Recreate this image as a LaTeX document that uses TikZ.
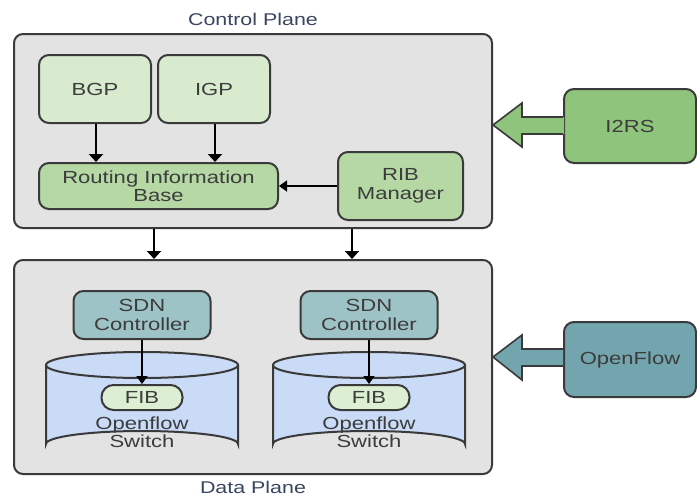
\documentclass[tikz,border=0pt]{standalone}
\usepackage{fontspec}
\setmainfont{Liberation Sans}[FakeStretch=1.26]
\usetikzlibrary{arrows.meta,calc}
\definecolor{txt}{HTML}{3C3C3C}
\definecolor{titletxt}{HTML}{3A4560}
\definecolor{edge}{HTML}{3A3A3A}
\definecolor{planefill}{HTML}{E3E3E3}
\definecolor{protofill}{HTML}{D8EBCF}
\definecolor{ribfill}{HTML}{B5D8A4}
\definecolor{irsfill}{HTML}{8EC47C}
\definecolor{sdnfill}{HTML}{9EC3C6}
\definecolor{offill}{HTML}{73A5AE}
\definecolor{cylfill}{HTML}{C9DBF6}
\definecolor{fibfill}{HTML}{DCEFD2}
\tikzset{
  plane/.style={draw=edge, line width=2pt, fill=planefill, rounded corners=9pt, inner sep=0pt},
  box/.style={draw=edge, line width=2pt, rounded corners=10pt, inner sep=0pt, align=center,
    text=txt, font=\fontsize{17.5}{18.5}\selectfont},
  title/.style={text=titletxt, font=\fontsize{17}{18}\selectfont},
  arr/.style={draw=black, line width=2pt, -{Triangle[width=14pt,length=8pt]}},
  thinarr/.style={draw=black, line width=1.4pt, -{Triangle[width=11pt,length=8pt]}},
  fat/.style={draw=edge, line width=1.6pt, line join=miter},
  cyl/.style={draw=edge, line width=2pt, fill=cylfill},
  cyltext/.style={text=txt, align=center, font=\fontsize{17.5}{18.5}\selectfont}
}
\begin{document}
\begin{tikzpicture}[x=1pt,y=-1pt]
\useasboundingbox (0,0) rectangle (697,498);

% planes
\node[plane, minimum width=478pt, minimum height=194pt] (cp) at (253,131) {};
\node[plane, minimum width=478pt, minimum height=214pt] (dp) at (253,367) {};
\node[title] (cpt) at (253,19) {Control Plane};
\node[title] (dpt) at (253,487) {Data Plane};

% control plane boxes
\node[box, fill=protofill, minimum width=112pt, minimum height=68pt] (bgp) at (95,89) {BGP};
\node[box, fill=protofill, minimum width=112pt, minimum height=68pt] (igp) at (214,89) {IGP};
\node[box, fill=ribfill, minimum width=239pt, minimum height=46pt] (rib) at (158.5,186) {Routing Information\\Base};
\node[box, fill=ribfill, minimum width=125pt, minimum height=68pt] (ribm) at (400.5,186) {RIB\\Manager};
\node[box, fill=irsfill, minimum width=132pt, minimum height=74pt] (irs) at (630,126) {I2RS};

\draw[arr] (bgp.south -| 96,0) -- (rib.north -| 96,0);
\draw[arr] (igp.south -| 215,0) -- (rib.north -| 215,0);
\draw[thinarr] (ribm.west) -- (rib.east);

% links between the planes
\draw[arr] (cp.south -| 154,0) -- (dp.north -| 154,0);
\draw[arr] (cp.south -| 352,0) -- (dp.north -| 352,0);

% switches
\foreach \n/\cx in {1/142, 2/369} {
  \fill[cylfill] (\cx-96,365) -- (\cx-96,444) arc[start angle=180, end angle=360, x radius=96, y radius=13]
     -- (\cx+96,365) arc[start angle=0, end angle=180, x radius=96, y radius=13] -- cycle;
  \draw[cyl] (\cx-96,365) -- (\cx-96,444) arc[start angle=180, end angle=360, x radius=96, y radius=13]
     -- (\cx+96,365);
  \draw[cyl] (\cx,365) ellipse[x radius=96, y radius=13];
  \node[box, fill=sdnfill, minimum width=137pt, minimum height=48pt] (sdn\n) at (\cx,315) {SDN\\Controller};
  \node[box, fill=fibfill, rounded corners=12pt, minimum width=81pt, minimum height=25pt] (fib\n) at (\cx,397.5) {FIB};
  \node[cyltext] (sw\n) at (\cx,432) {Openflow\\Switch};
  \draw[thinarr] (sdn\n.south) -- (fib\n.north);
}

\node[box, fill=offill, minimum width=132pt, minimum height=75pt] (of) at (630,359.5) {OpenFlow};

% block arrows into the planes
\coordinate (irstip) at (cp.east |- 0,125);
\fill[irsfill] ($(irs.west)+(1,-9)$) -- (522,117) -- (522,103) -- (irstip) -- (522,147) -- (522,134) -- ($(irs.west)+(1,8)$) -- cycle;
\draw[fat] (irs.west |- 0,117) -- (522,117) -- (522,103) -- (irstip) -- (522,147) -- (522,134) -- (irs.west |- 0,134);

\coordinate (oftip) at (dp.east |- 0,357);
\fill[offill] (of.west |- 0,349) -- (522,349) -- (522,335) -- (oftip) -- (522,380) -- (522,366) -- (of.west |- 0,366) -- cycle;
\draw[fat] (of.west |- 0,349) -- (522,349) -- (522,335) -- (oftip) -- (522,380) -- (522,366) -- (of.west |- 0,366);
\end{tikzpicture}
\end{document}
